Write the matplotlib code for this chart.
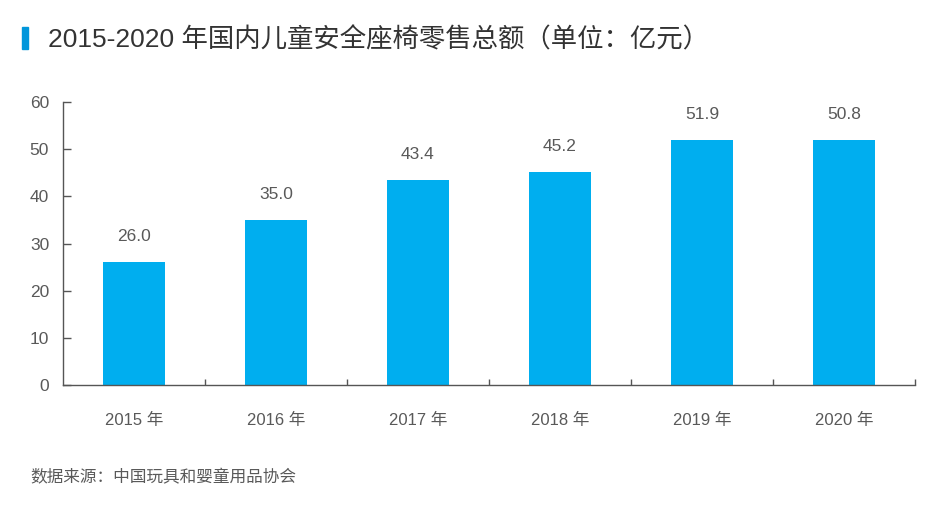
import matplotlib.pyplot as plt
import numpy as np

plt.rcParams['font.family'] = ['Noto Sans CJK SC', 'DejaVu Sans']
mixed = ['Liberation Sans', 'Noto Sans CJK SC']

# data
years = ['2015 年', '2016 年', '2017 年', '2018 年', '2019 年', '2020 年']
bar_heights = [26.0, 35.0, 43.4, 45.2, 51.9, 51.9]
value_labels = ['26.0', '35.0', '43.4', '45.2', '51.9', '50.8']
y_ticks = [0, 10, 20, 30, 40, 50, 60]

title = '2015-2020 年国内儿童安全座椅零售总额（单位：亿元）'
source = '数据来源：中国玩具和婴童用品协会'

bar_color = '#00AEEF'
text_color = '#595959'
axis_color = '#555555'

fig = plt.figure(figsize=(9.39, 5.16), dpi=100)
ax = fig.add_axes([0.0671, 0.2539, 0.9073, 0.5484])

x = np.arange(len(years))
bars = ax.bar(x, bar_heights, width=0.435, color=bar_color)

for b, lab in zip(bars, value_labels):
    ax.annotate(lab, (b.get_x() + b.get_width() / 2, b.get_height()),
                xytext=(0, 13), textcoords='offset points',
                ha='center', va='bottom', fontsize=12.5, color=text_color,
                family='Liberation Sans')

ax.set_xlim(-0.5, len(years) - 0.5)
ax.set_ylim(0, 60)

ax.set_xticks(x)
ax.set_xticklabels(years, fontsize=12, color=text_color, family=mixed)
ax.tick_params(axis='x', which='major', length=0, pad=20)
ax.set_xticks(np.arange(0.5, len(years)), minor=True)
ax.tick_params(axis='x', which='minor', direction='in', length=4,
               color=axis_color, width=1)

ax.set_yticks(y_ticks)
ax.set_yticklabels([str(t) for t in y_ticks], fontsize=12.5, color=text_color,
                   family='Liberation Sans')
ax.tick_params(axis='y', direction='in', length=6, pad=10,
               color=axis_color, width=1)

for side in ['top', 'right']:
    ax.spines[side].set_visible(False)
for side in ['left', 'bottom']:
    ax.spines[side].set_color(axis_color)
    ax.spines[side].set_linewidth(1)

# title with blue marker
fig.patches.append(plt.Rectangle((22 / 939, 1 - 49 / 516), 6 / 939, 22 / 516,
                                 transform=fig.transFigure, color='#0096DB'))
fig.text(48 / 939, 1 - 40 / 516, title, fontsize=19, color='#333333',
         va='center', ha='left', family=mixed)

fig.text(30 / 939, 1 - 478 / 516, source, fontsize=12, color=text_color,
         va='center', ha='left')

fig.savefig('out.png', dpi=100)
